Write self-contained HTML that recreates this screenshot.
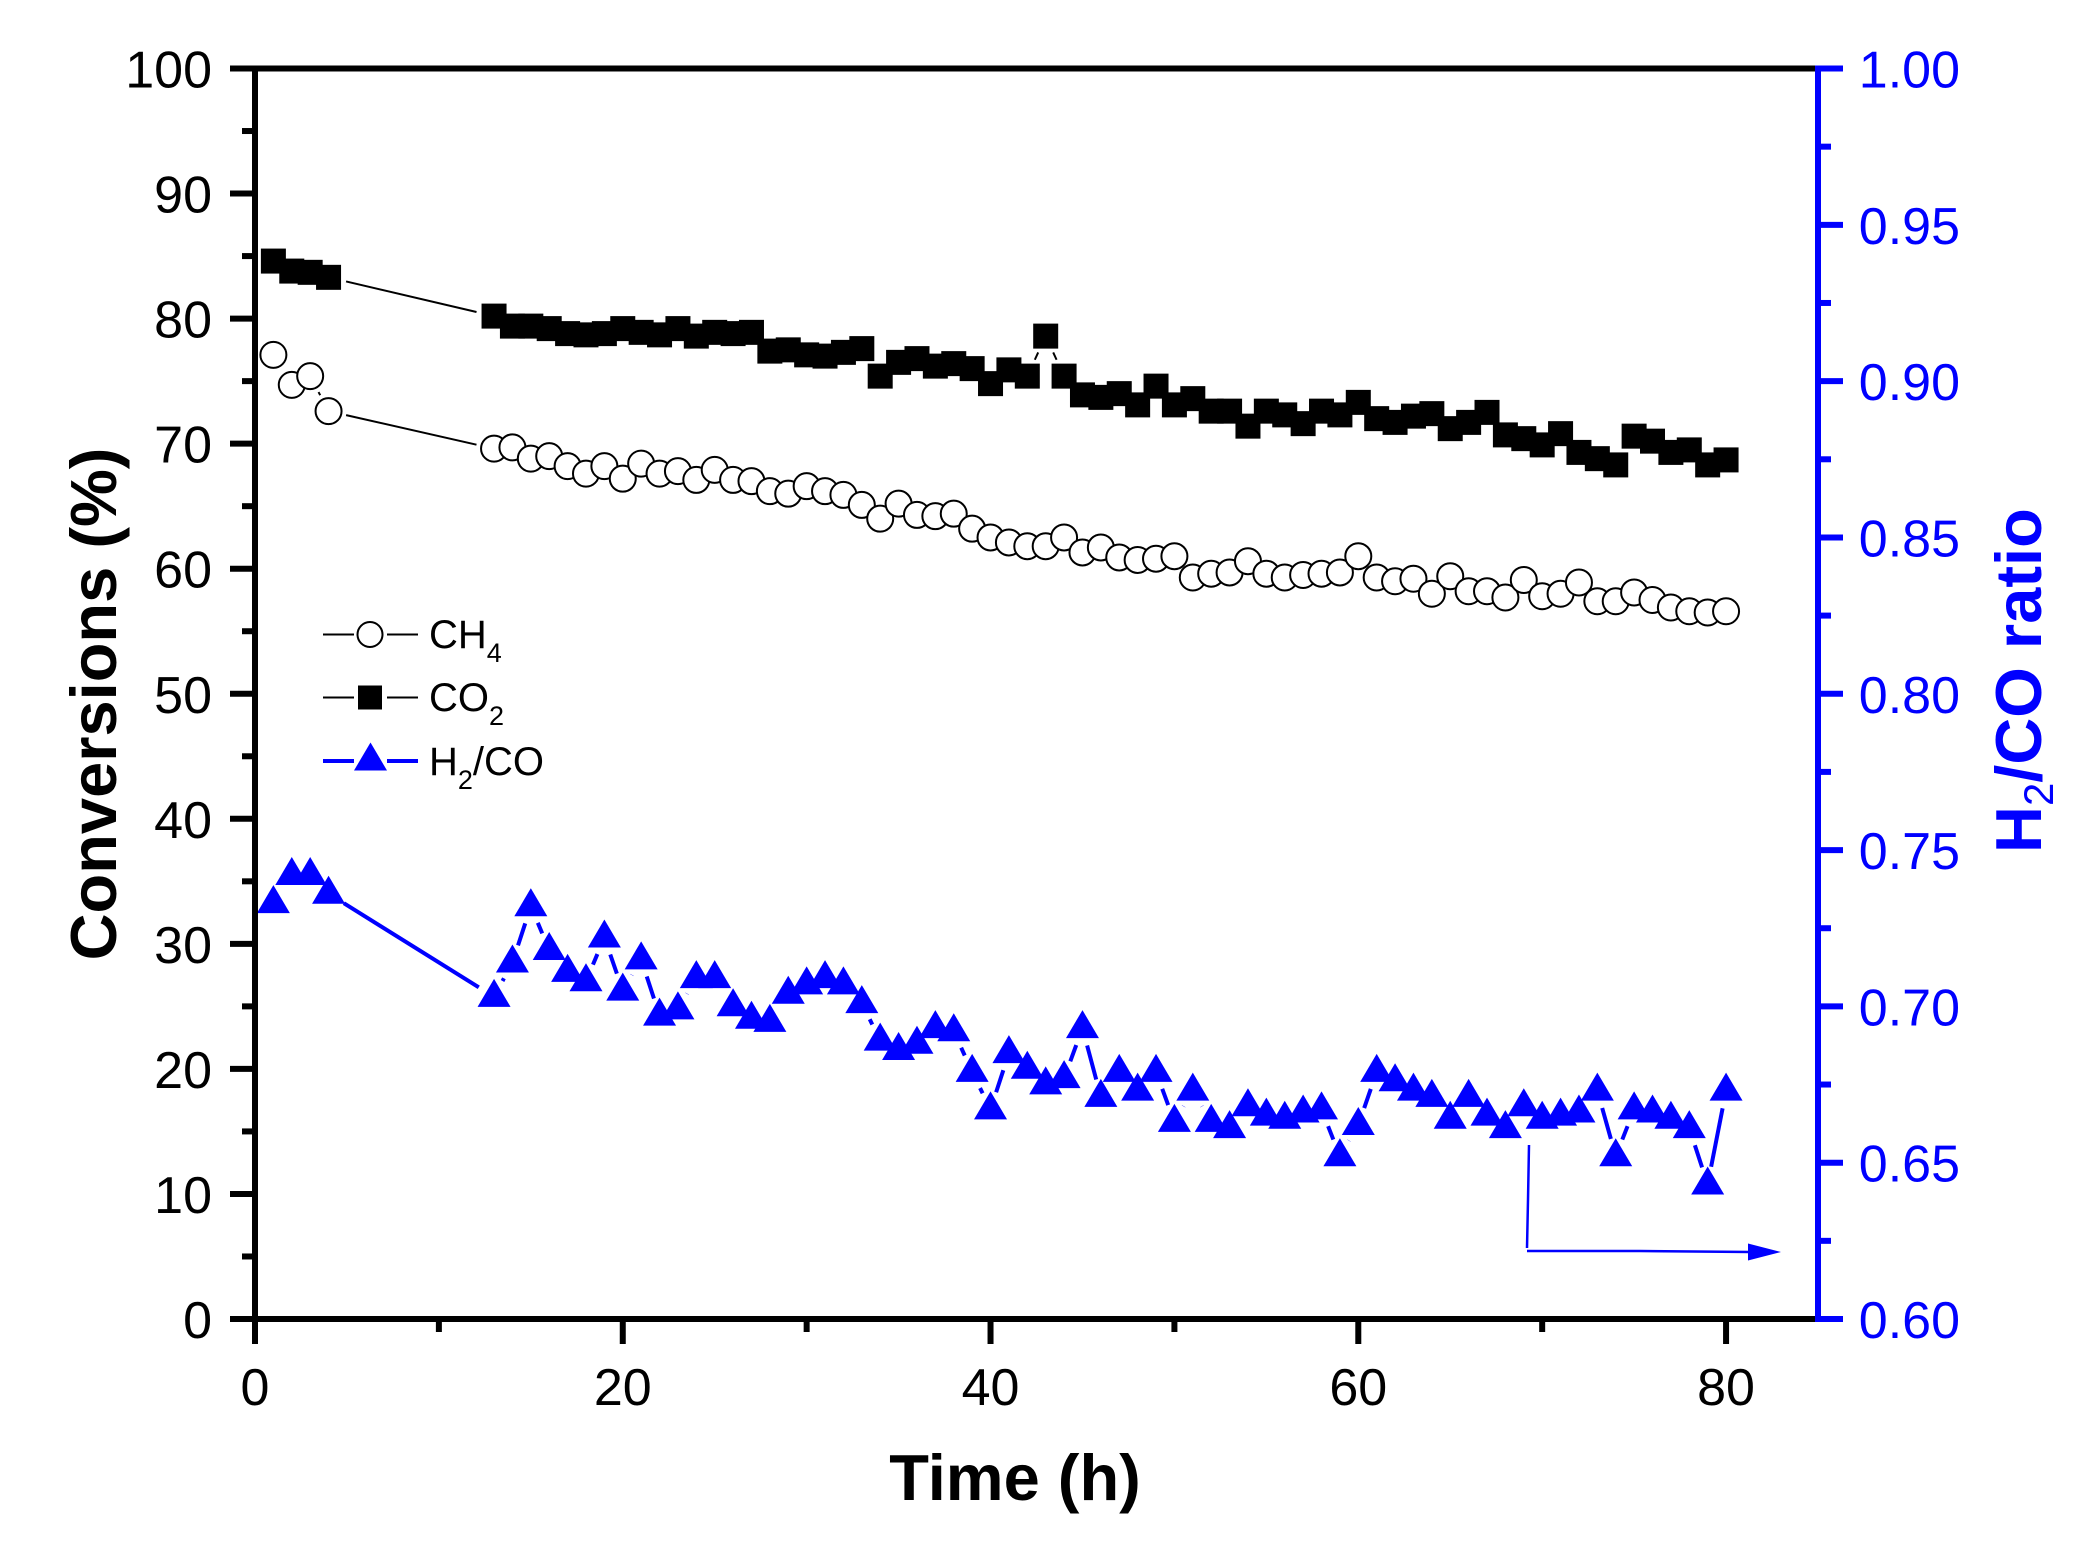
<!DOCTYPE html>
<html lang="en">
<head>
<meta charset="utf-8">
<title>Conversions and H2/CO ratio over time</title>
<style>
html,body{margin:0;padding:0;background:#fff;}
svg{display:block;font-family:"Liberation Sans",Arial,sans-serif;}
</style>
</head>
<body>
<svg id="chart" xmlns="http://www.w3.org/2000/svg" width="2099" height="1549" viewBox="0 0 2099 1549">
  <rect x="0" y="0" width="2099" height="1549" fill="#fff"/>
  <g id="series-layer"></g>
  <g id="axes-layer"></g>

  <text x="1015" y="1500" text-anchor="middle" font-size="65" font-weight="bold" fill="#000">Time (h)</text>
  <text transform="translate(116 704) rotate(-90)" text-anchor="middle" font-size="65" font-weight="bold" fill="#000">Conversions (%)</text>
  <text transform="translate(2041 853) rotate(-90)" font-size="65" font-weight="bold" fill="#0000ff">H<tspan font-size="42" font-weight="normal" dy="12">2</tspan><tspan dy="-12">/CO ratio</tspan></text>

  <g>
    <g>
      <line x1="323" y1="634.5" x2="354" y2="634.5" stroke="#000" stroke-width="2"/>
      <line x1="387" y1="634.5" x2="418" y2="634.5" stroke="#000" stroke-width="2"/>
      <circle cx="370" cy="634.5" r="12.5" fill="#fff" stroke="#000" stroke-width="2"/>
      <text x="429" y="648" font-size="40" fill="#000">CH<tspan font-size="27" dy="14">4</tspan></text>
    </g>
    <g>
      <line x1="323" y1="697.5" x2="354" y2="697.5" stroke="#000" stroke-width="2"/>
      <line x1="387" y1="697.5" x2="418" y2="697.5" stroke="#000" stroke-width="2"/>
      <rect x="358" y="685.5" width="24" height="24" fill="#000"/>
      <text x="429" y="711" font-size="40" fill="#000">CO<tspan font-size="27" dy="14">2</tspan></text>
    </g>
    <g>
      <line x1="323" y1="761" x2="354" y2="761" stroke="#0000ff" stroke-width="4"/>
      <line x1="387" y1="761" x2="418" y2="761" stroke="#0000ff" stroke-width="4"/>
      <polygon points="370.5,742.5 354,770.5 387,770.5" fill="#0000ff"/>
      <text x="429" y="775" font-size="40" fill="#000">H<tspan font-size="27" dy="14">2</tspan><tspan dy="-14">/CO</tspan></text>
    </g>
  </g>

  <g>
    <path d="M1529 1145 L1528 1200 L1527 1248" fill="none" stroke="#0000ff" stroke-width="2.5"/>
    <path d="M1527 1251 L1640 1251 L1750 1252" fill="none" stroke="#0000ff" stroke-width="2.5"/>
    <polygon points="1748,1243.5 1781,1252 1748,1260.5" fill="#0000ff"/>
  </g>
</svg>

<script>
const hours = [1,2,3,4,13,14,15,16,17,18,19,20,21,22,23,24,25,26,27,28,29,30,31,32,33,34,35,36,37,38,39,40,41,42,43,44,45,46,47,48,49,50,51,52,53,54,55,56,57,58,59,60,61,62,63,64,65,66,67,68,69,70,71,72,73,74,75,76,77,78,79,80];
const ch4Conversion = [77.1,74.7,75.4,72.6,69.6,69.7,68.8,69.0,68.2,67.6,68.2,67.2,68.4,67.6,67.8,67.1,67.9,67.1,67.0,66.2,66.0,66.6,66.2,65.9,65.1,64.0,65.2,64.3,64.2,64.4,63.2,62.5,62.1,61.8,61.8,62.5,61.3,61.7,60.9,60.7,60.8,61.0,59.3,59.6,59.7,60.6,59.6,59.3,59.5,59.6,59.7,61.0,59.3,59.0,59.2,58.0,59.4,58.2,58.2,57.7,59.1,57.8,58.0,58.9,57.4,57.4,58.1,57.5,56.9,56.6,56.5,56.6];
const co2Conversion = [84.6,83.8,83.7,83.3,80.2,79.4,79.4,79.2,78.8,78.7,78.8,79.2,78.9,78.7,79.2,78.6,78.9,78.8,78.9,77.4,77.5,77.1,77.0,77.3,77.6,75.4,76.5,76.8,76.2,76.4,76.0,74.8,75.9,75.4,78.6,75.4,73.9,73.7,74.0,73.1,74.6,73.1,73.6,72.6,72.6,71.4,72.6,72.3,71.6,72.6,72.3,73.3,72.0,71.7,72.2,72.4,71.2,71.7,72.5,70.7,70.4,69.9,70.8,69.3,68.8,68.3,70.6,70.2,69.3,69.5,68.3,68.7];
const h2CoRatio = [0.734,0.743,0.743,0.737,0.704,0.715,0.733,0.719,0.712,0.709,0.723,0.706,0.716,0.698,0.700,0.710,0.710,0.701,0.697,0.696,0.705,0.708,0.710,0.708,0.702,0.690,0.687,0.689,0.694,0.693,0.680,0.668,0.686,0.681,0.676,0.678,0.694,0.672,0.680,0.674,0.680,0.664,0.674,0.664,0.662,0.669,0.666,0.665,0.667,0.668,0.653,0.663,0.680,0.677,0.674,0.672,0.665,0.672,0.666,0.662,0.669,0.665,0.666,0.667,0.674,0.653,0.668,0.667,0.665,0.662,0.644,0.674];
const xTickLabels = ["0","20","40","60","80"];
const xMinorTicks = [10,30,50,70];
const leftTickLabels = ["0","10","20","30","40","50","60","70","80","90","100"];
const leftMinorTicks = [5,15,25,35,45,55,65,75,85,95];
const rightTickLabels = ["0.60","0.65","0.70","0.75","0.80","0.85","0.90","0.95","1.00"];
const rightMinorTicks = [0.625,0.675,0.725,0.775,0.825,0.875,0.925,0.975];

const PLOT = { left: 255, right: 1818, top: 68.5, bottom: 1319 };
const X_MAX = 85, Y_MAX = 100, R_MIN = 0.6, R_MAX = 1.0;
const BLUE = '#0000ff';
const SVG_NS = 'http://www.w3.org/2000/svg';

function xScale(v) { return PLOT.left + (v / X_MAX) * (PLOT.right - PLOT.left); }
function yLeft(v) { return PLOT.bottom - (v / Y_MAX) * (PLOT.bottom - PLOT.top); }
function yRight(v) { return PLOT.bottom - ((v - R_MIN) / (R_MAX - R_MIN)) * (PLOT.bottom - PLOT.top); }

function make(tag, attrs, parent) {
  const el = document.createElementNS(SVG_NS, tag);
  for (const k in attrs) el.setAttribute(k, attrs[k]);
  parent.appendChild(el);
  return el;
}

const axes = document.getElementById('axes-layer');
const series = document.getElementById('series-layer');

function tickLine(x1, y1, x2, y2, color, name) {
  const el = make('line', { x1: x1, y1: y1, x2: x2, y2: y2, stroke: color, 'stroke-width': 6 }, axes);
  
  
}
function tickText(x, y, str, anchor, color, name) {
  const el = make('text', { x: x, y: y, 'text-anchor': anchor, 'font-size': 52, fill: color }, axes);
  el.textContent = str;
  
  
}

// frame
tickLine(PLOT.left - 25, PLOT.top, PLOT.right, PLOT.top, '#000', 'top-axis-line');
tickLine(PLOT.left - 25, PLOT.bottom, PLOT.right, PLOT.bottom, '#000', 'x-axis-line');
tickLine(PLOT.left, PLOT.top, PLOT.left, PLOT.bottom + 25, '#000', 'left-y-axis-line');
tickLine(PLOT.right, PLOT.top - 3, PLOT.right, PLOT.bottom + 3, BLUE, 'right-y-axis-line');

// x axis
xTickLabels.forEach(function (label) {
  const x = xScale(Number(label));
  tickLine(x, PLOT.bottom, x, PLOT.bottom + 25, '#000', 'x-major-tick');
  tickText(x, PLOT.bottom + 86, label, 'middle', '#000', 'x-tick-label');
});
xMinorTicks.forEach(function (v) {
  tickLine(xScale(v), PLOT.bottom, xScale(v), PLOT.bottom + 13, '#000', 'x-minor-tick');
});

// left axis
leftTickLabels.forEach(function (label) {
  const y = yLeft(Number(label));
  tickLine(PLOT.left - 25, y, PLOT.left, y, '#000', 'left-major-tick');
  tickText(212, y + 19, label, 'end', '#000', 'left-tick-label');
});
leftMinorTicks.forEach(function (v) {
  tickLine(PLOT.left - 13, yLeft(v), PLOT.left, yLeft(v), '#000', 'left-minor-tick');
});

// right axis
rightTickLabels.forEach(function (label) {
  const y = yRight(Number(label));
  tickLine(PLOT.right, y, PLOT.right + 25, y, BLUE, 'right-major-tick');
  tickText(1960, y + 19, label, 'end', BLUE, 'right-tick-label');
});
rightMinorTicks.forEach(function (v) {
  tickLine(PLOT.right, yRight(v), PLOT.right + 13, yRight(v), BLUE, 'right-minor-tick');
});

// series
const GAP = 18;
function drawSegments(group, xs, ys, color, width, offset) {
  for (let i = 0; i < xs.length - 1; i++) {
    const dx = xs[i + 1] - xs[i], dy = ys[i + 1] - ys[i];
    const len = Math.sqrt(dx * dx + dy * dy);
    if (len <= 2 * GAP) continue;
    const ux = dx / len, uy = dy / len;
    make('line', {
      x1: xs[i] + ux * GAP, y1: ys[i] + uy * GAP + offset,
      x2: xs[i + 1] - ux * GAP, y2: ys[i + 1] - uy * GAP + offset,
      stroke: color, 'stroke-width': width
    }, group);
  }
}

const ch4Group = make('g', {}, series);


const ch4X = hours.map(xScale), ch4Y = ch4Conversion.map(yLeft);
drawSegments(ch4Group, ch4X, ch4Y, '#000', 2, 0);
ch4X.forEach(function (x, i) {
  const c = make('circle', { cx: x, cy: ch4Y[i], r: 13, fill: '#fff', stroke: '#000', 'stroke-width': 2 }, ch4Group);
  
  
});

const co2Group = make('g', {}, series);


const co2X = hours.map(xScale), co2Y = co2Conversion.map(yLeft);
drawSegments(co2Group, co2X, co2Y, '#000', 2, 0);
co2X.forEach(function (x, i) {
  const r = make('rect', { x: x - 12.5, y: co2Y[i] - 12.5, width: 25, height: 25, fill: '#000' }, co2Group);
  
  
});

const h2Group = make('g', {}, series);


const h2X = hours.map(xScale), h2Y = h2CoRatio.map(yRight);
drawSegments(h2Group, h2X, h2Y, BLUE, 4, 3);
h2X.forEach(function (x, i) {
  const y = h2Y[i];
  const pts = x + ',' + (y - 15) + ' ' + (x - 16.5) + ',' + (y + 13) + ' ' + (x + 16.5) + ',' + (y + 13);
  const t = make('polygon', { points: pts, fill: BLUE }, h2Group);
  
  
});
</script>
</body>
</html>
